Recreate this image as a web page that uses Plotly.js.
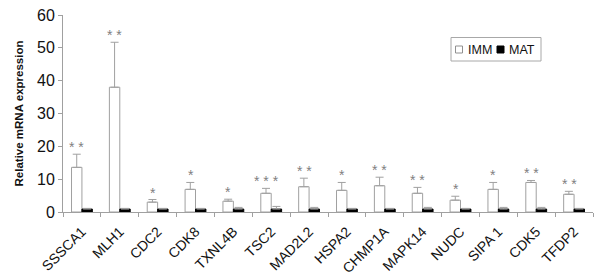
<!DOCTYPE html>
<html><head><meta charset="utf-8">
<script src="https://cdn.plot.ly/plotly-3.0.1.min.js"></script>
<style>html,body{margin:0;padding:0;background:#fff}#c{width:600px;height:276px}</style>
</head><body><div id="c"></div>
<script>
const genes = ["SSSCA1","MLH1","CDC2","CDK8","TXNL4B","TSC2","MAD2L2","HSPA2","CHMP1A","MAPK14","NUDC","SIPA 1","CDK5","TFDP2"];
const immValues = [13.6, 38.0, 3.0, 6.9, 3.3, 5.7, 7.7, 6.6, 8.0, 5.7, 3.6, 6.9, 9.0, 5.4];
const immErrors = [4.0, 13.7, 0.8, 2.1, 0.6, 1.5, 2.6, 2.4, 2.6, 1.8, 1.2, 2.1, 0.6, 0.9];
const matValues = [0.9, 0.9, 0.9, 0.9, 0.9, 0.9, 0.9, 0.9, 0.9, 0.9, 0.9, 0.9, 0.9, 0.9];
const matErrors = [0.2, 0.2, 0.2, 0.2, 0.5, 0.8, 0.5, 0.2, 0.2, 0.5, 0.2, 0.5, 0.5, 0.2];
const stars = ["**","**","*","*","*","***","**","*","**","**","*","*","**","**"];
const seriesNames = ["IMM","MAT"];

const W=600, H=276, M={l:63, r:7, t:15, b:64};
const pw = W-M.l-M.r, ph = H-M.t-M.b;
const px = x => (x-M.l)/pw;          // page px -> paper x
const py = y => (H-M.b-y)/ph;        // page px -> paper y

const zeros = genes.map(()=>0);
const traces = [
  {type:"bar", name:seriesNames[0], x:genes, y:immValues,
   marker:{color:"#ffffff", line:{color:"#a0a0a0", width:1}},
   error_y:{type:"data", array:immErrors, arrayminus:zeros, symmetric:false, color:"#a0a0a0", thickness:1, width:4}},
  {type:"bar", name:seriesNames[1], x:genes, y:matValues,
   marker:{color:"#000000", line:{color:"#000000", width:1}},
   error_y:{type:"data", array:matErrors, arrayminus:zeros, symmetric:false, color:"#a0a0a0", thickness:1, width:4}}
];
const annotations = genes.map((g,i)=>({
  x:g, y:immValues[i]+immErrors[i], xref:"x", yref:"y",
  text:stars[i].split("").join(" "), showarrow:false, xanchor:"center", yanchor:"bottom",
  xshift:-5, yshift:-3, font:{family:"Liberation Sans, Arial", size:14, color:"#808080"}
}));
// legend (drawn manually to match the compact box)
annotations.push(
  {xref:"paper", yref:"paper", x:px(465.5), y:py(49.5), text:seriesNames[0], showarrow:false,
   xanchor:"left", yanchor:"middle", font:{family:"Liberation Sans, Arial", size:12.5, color:"#111"}},
  {xref:"paper", yref:"paper", x:px(506.5), y:py(49.5), text:seriesNames[1], showarrow:false,
   xanchor:"left", yanchor:"middle", font:{family:"Liberation Sans, Arial", size:12.5, color:"#111"}}
);
const shapes = [
  {type:"rect", xref:"paper", yref:"paper", x0:px(451), x1:px(541), y0:py(37.5), y1:py(61), line:{color:"#a8a8a8", width:1}, fillcolor:"#fff", layer:"below"},
  {type:"rect", xref:"paper", yref:"paper", x0:px(455.5), x1:px(462.5), y0:py(46), y1:py(53), line:{color:"#909090", width:1}, fillcolor:"#fff"},
  {type:"rect", xref:"paper", yref:"paper", x0:px(497), x1:px(504), y0:py(46), y1:py(53), line:{color:"#000", width:1}, fillcolor:"#000"}
];
const layout = {
  width:W, height:H,
  margin:M,
  paper_bgcolor:"#fff", plot_bgcolor:"#fff",
  font:{family:"Liberation Sans, Arial", color:"#222"},
  barmode:"group", bargap:0.45, bargroupgap:0,
  showlegend:false,
  xaxis:{type:"category", tickson:"boundaries", ticks:"outside", ticklen:4, tickcolor:"#a0a0a0",
    showline:true, linecolor:"#a0a0a0", linewidth:1, tickangle:-45, ticklabelstandoff:5,
    tickfont:{size:14, color:"#111"}, showgrid:false, zeroline:false},
  yaxis:{range:[0,60], dtick:10, ticks:"outside", ticklen:4, tickcolor:"#a0a0a0",
    showline:true, linecolor:"#a0a0a0", linewidth:1, showgrid:false, zeroline:false,
    tickfont:{size:16, color:"#111"},
    title:{text:"<b>Relative mRNA expression</b>", font:{size:11.5, color:"#111"}, standoff:10}},
  annotations:annotations, shapes:shapes
};
Plotly.newPlot("c", traces, layout, {staticPlot:true, displayModeBar:false});
</script></body></html>
